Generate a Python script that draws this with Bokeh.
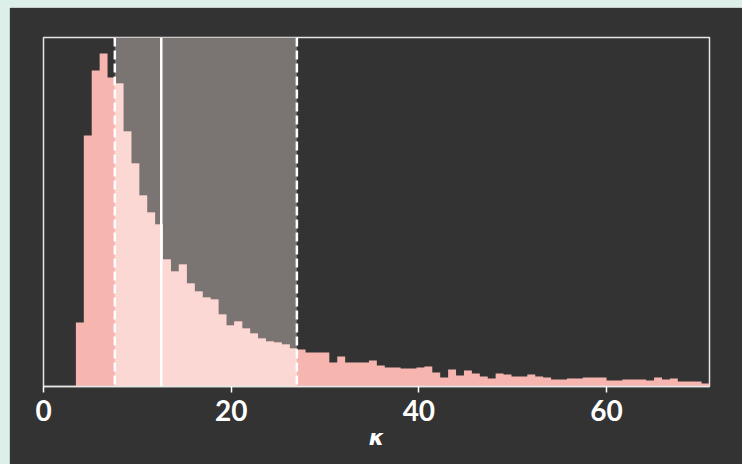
from bokeh.plotting import figure
from bokeh.models import Range1d, Span, BoxAnnotation, FixedTicker, Spacer
from bokeh.layouts import row, column
from bokeh.embed import file_html
from bokeh.resources import INLINE
import numpy as np

# ---- data -------------------------------------------------------------
bin_start = 3.45
bin_width = 0.844
counts = [64, 251, 316, 333, 309, 303, 255, 223, 191, 174,
          162, 127, 115, 122, 103, 95, 89, 87, 72, 61,
          65, 58, 53, 48, 45, 44, 42, 38, 37, 34,
          34, 34, 24, 30, 24, 24, 24, 26, 21, 19,
          19, 18, 18, 19, 20, 14, 9, 17, 11, 16,
          13, 10, 8, 13, 12, 10, 10, 12, 10, 9,
          7, 7, 8, 8, 9, 9, 9, 6, 6, 7,
          7, 7, 6, 9, 7, 8, 5, 5, 5, 3]
interval_low = 7.6
interval_mid = 12.55
interval_high = 27.0
x_ticks = [0, 20, 40, 60]
x_label = "κ"

# ---- derived ------------------------------------------------------------
n = len(counts)
edges = bin_start + bin_width * np.arange(n + 1)
step_x = list(edges)
step_y = list(counts) + [counts[-1]]

hl_x = [interval_low]
hl_y = [counts[int(np.searchsorted(edges, interval_low, side="right")) - 1]]
for i in range(1, n):
    if interval_low < edges[i] < interval_high:
        hl_x.append(edges[i])
        hl_y.append(counts[i])
hl_x.append(interval_high)
hl_y.append(hl_y[-1])

BG = "#333333"
PINK = "#f7b5b0"
LIGHT = "#fbd8d3"
GREY = "#7a7472"
MINT = "#dcefe8"

p = figure(width=733, height=457, output_backend="svg", toolbar_location=None,
           x_range=Range1d(0, edges[-1]), y_range=Range1d(0, 349),
           min_border_left=34, min_border_right=33, min_border_top=30,
           min_border_bottom=78)
p.background_fill_color = BG
p.border_fill_color = BG
p.outline_line_color = "#e6e6e6"
p.outline_line_width = 1.5
p.grid.visible = False
p.yaxis.visible = False

band = BoxAnnotation(left=interval_low, right=interval_high, fill_color=GREY,
                     fill_alpha=1.0, line_color=None, level="underlay")
p.add_layout(band)

p.varea_step(x=step_x, y1=0, y2=step_y, step_mode="after", fill_color=PINK)
p.varea_step(x=hl_x, y1=0, y2=hl_y, step_mode="after", fill_color=LIGHT)

for xv, dash, w in [(interval_low, "9 4", 2.5), (interval_high, "9 4", 2.5),
                    (interval_mid, "solid", 2.5)]:
    p.add_layout(Span(location=xv, dimension="height", line_color="white",
                      line_width=w, line_dash=dash, level="overlay"))

ax = p.xaxis[0]
ax.ticker = FixedTicker(ticks=x_ticks)
ax.axis_line_color = "#e6e6e6"
ax.axis_line_width = 1.5
ax.major_tick_line_color = "white"
ax.major_tick_line_width = 1.5
ax.major_tick_out = 6
ax.major_tick_in = 0
ax.minor_tick_line_color = None
ax.major_label_text_color = "white"
ax.major_label_text_font = "Lato"
ax.major_label_text_font_style = "bold"
ax.major_label_text_font_size = "28px"
ax.major_label_standoff = 7
ax.axis_label = x_label
ax.axis_label_text_color = "white"
ax.axis_label_text_font = "DejaVu Sans"
ax.axis_label_text_font_style = "bold italic"
ax.axis_label_text_font_size = "22px"
ax.axis_label_standoff = 1

left_strip = Spacer(width=9, height=464, styles={"background-color": MINT})
top_strip = Spacer(width=733, height=7, styles={"background-color": MINT})
layout = row(left_strip, column(top_strip, p, spacing=0), spacing=0)

open("out.html", "w").write(file_html(layout, INLINE))
